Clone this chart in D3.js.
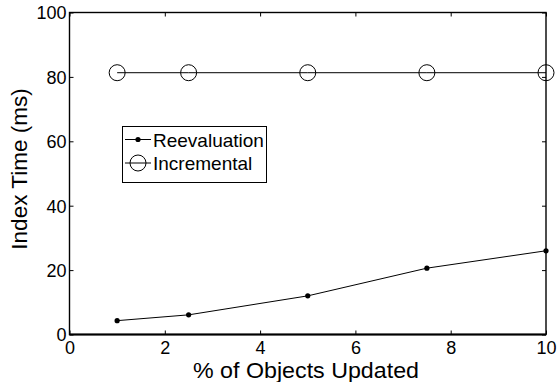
<!DOCTYPE html>
<html>
<head>
<meta charset="utf-8">
<script src="https://cdn.jsdelivr.net/npm/d3@7"></script>
<style>
  html, body { margin: 0; padding: 0; background: #fff; }
  svg { display: block; font-family: "Liberation Sans", Arial, Helvetica, sans-serif; }
</style>
</head>
<body>
<svg id="chart" width="559" height="382"></svg>
<script>
// Index build time versus share of updated objects
const pctUpdated = [1, 2.5, 5, 7.5, 10];
const reevaluation = [4.3, 6.1, 12.0, 20.6, 26.0];
const incremental = [81.3, 81.3, 81.3, 81.3, 81.3];
const xTicks = [0, 2, 4, 6, 8, 10];
const yTicks = [0, 20, 40, 60, 80, 100];
const seriesNames = ["Reevaluation", "Incremental"];

const svg = d3.select("#chart");
const m = { left: 69.5, right: 546, top: 12.5, bottom: 334.5 };

const x = d3.scaleLinear().domain([0, 10]).range([m.left, m.right]);
const y = d3.scaleLinear().domain([0, 100]).range([m.bottom, m.top]);

const tickLen = 4;
const tickFont = 18;

// Bottom axis
const gx = svg.append("g").attr("transform", `translate(0,${m.bottom})`)
  .call(d3.axisBottom(x).tickValues(xTicks).tickSizeInner(-tickLen).tickSizeOuter(0).tickPadding(6.5));
gx.select(".domain").remove();
gx.selectAll("text").attr("font-size", tickFont).attr("fill", "#000");
gx.selectAll("line").attr("stroke", "#000");

// Top mirrored ticks
const gxt = svg.append("g").attr("transform", `translate(0,${m.top})`)
  .call(d3.axisTop(x).tickValues(xTicks).tickSizeInner(-tickLen).tickSizeOuter(0).tickFormat(""));
gxt.select(".domain").remove();
gxt.selectAll("line").attr("stroke", "#000");

// Left axis
const gy = svg.append("g").attr("transform", `translate(${m.left},0)`)
  .call(d3.axisLeft(y).tickValues(yTicks).tickSizeInner(-tickLen).tickSizeOuter(0).tickPadding(3));
gy.select(".domain").remove();
gy.selectAll("text").attr("font-size", tickFont).attr("fill", "#000").attr("dy", "0.36em");
gy.selectAll("line").attr("stroke", "#000");

// Right mirrored ticks
const gyr = svg.append("g").attr("transform", `translate(${m.right},0)`)
  .call(d3.axisRight(y).tickValues(yTicks).tickSizeInner(-tickLen).tickSizeOuter(0).tickFormat(""));
gyr.select(".domain").remove();
gyr.selectAll("line").attr("stroke", "#000");

// Axes box
svg.append("rect")
  .attr("x", m.left).attr("y", m.top)
  .attr("width", m.right - m.left).attr("height", m.bottom - m.top)
  .attr("fill", "none").attr("stroke", "#000").attr("stroke-width", 1.4);
svg.append("line")
  .attr("x1", m.left).attr("x2", m.right).attr("y1", m.bottom).attr("y2", m.bottom)
  .attr("stroke", "#000").attr("stroke-width", 2.2);

const line = d3.line().x(d => x(d[0])).y(d => y(d[1]));

// Incremental series: line with open circles
svg.append("path")
  .datum(pctUpdated.map((p, i) => [p, incremental[i]]))
  .attr("d", line).attr("fill", "none").attr("stroke", "#000").attr("stroke-width", 1);
svg.selectAll(".inc").data(pctUpdated).enter().append("circle")
  .attr("cx", (d) => x(d)).attr("cy", (d, i) => y(incremental[i]))
  .attr("r", 8).attr("fill", "none").attr("stroke", "#000").attr("stroke-width", 1);

// Reevaluation series: line with dots
svg.append("path")
  .datum(pctUpdated.map((p, i) => [p, reevaluation[i]]))
  .attr("d", line).attr("fill", "none").attr("stroke", "#000").attr("stroke-width", 1);
svg.selectAll(".ree").data(pctUpdated).enter().append("circle")
  .attr("cx", (d) => x(d)).attr("cy", (d, i) => y(reevaluation[i]))
  .attr("r", 2.6).attr("fill", "#000");

// Axis titles
svg.append("text")
  .attr("x", 306).attr("y", 378)
  .attr("text-anchor", "middle").attr("font-size", 22)
  .attr("textLength", 226).attr("lengthAdjust", "spacingAndGlyphs")
  .text("% of Objects Updated");
svg.append("text")
  .attr("transform", `translate(27,169) rotate(-90)`)
  .attr("text-anchor", "middle").attr("font-size", 22.5).text("Index Time (ms)");

// Legend
const lg = svg.append("g");
lg.append("rect").attr("x", 122.5).attr("y", 126.5).attr("width", 144).attr("height", 56)
  .attr("fill", "#fff").attr("stroke", "#000").attr("stroke-width", 1);
const rows = [139.5, 163];
rows.forEach((ry, i) => {
  lg.append("line").attr("x1", 125).attr("x2", 151).attr("y1", ry).attr("y2", ry)
    .attr("stroke", "#000").attr("stroke-width", 1);
  if (i === 0) {
    lg.append("circle").attr("cx", 138).attr("cy", ry).attr("r", 2.6).attr("fill", "#000");
  } else {
    lg.append("circle").attr("cx", 138).attr("cy", ry).attr("r", 8)
      .attr("fill", "none").attr("stroke", "#000").attr("stroke-width", 1);
  }
  lg.append("text").attr("x", 153).attr("y", ry + 7).attr("font-size", 19).text(seriesNames[i]);
});
</script>
</body>
</html>
